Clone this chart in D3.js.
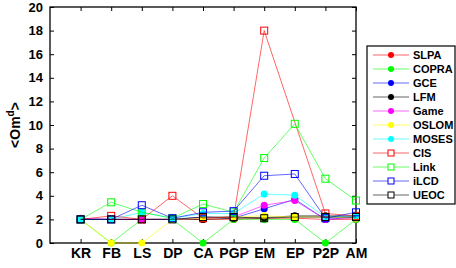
<!DOCTYPE html>
<html>
<head>
<meta charset="utf-8">
<script src="https://cdn.jsdelivr.net/npm/d3@7"></script>
<style>
  body { margin: 0; background: #fff; }
  svg { font-family: "Liberation Sans", Arial, sans-serif; }
</style>
</head>
<body>
<svg id="chart" width="456" height="268"></svg>
<script>
var categories = ["KR", "FB", "LS", "DP", "CA", "PGP", "EM", "EP", "P2P", "AM"];
var yTicks = [0, 2, 4, 6, 8, 10, 12, 14, 16, 18, 20];

// one array per algorithm (null = no point)
var slpa  = [2.0, 2.0, 2.0, 2.0, 2.0, 2.0, 2.1, 2.1, 2.0, 2.0];
var copra = [2.0, 0.0, 2.0, 2.0, 0.0, 2.0, 2.0, 2.0, 0.0, 2.0];
var gce   = [2.0, 2.0, 2.0, 2.0, 2.2, 2.1, 2.9, 3.7, 2.0, 2.2];
var lfm   = [2.0, 2.0, 2.0, 2.0, 2.0, 2.1, 2.15, 2.3, 2.3, 2.3];
var game  = [2.1, 2.0, 2.0, 2.0, 2.1, 2.2, 3.2, 3.6, 2.0, 2.1];
var oslom = [2.0, 0.0, 0.0, 2.0, 2.1, 2.2, 2.3, 2.2, 2.2, 2.1];
var moses = [2.0, 2.0, 2.6, 2.1, 2.5, 2.5, 4.15, 4.05, 2.2, 2.3];
var cis   = [2.0, 2.3, 2.0, 4.0, 2.1, 2.2, 18.0, null, 2.5, 2.3];
var link  = [2.0, 3.45, 2.6, 2.1, 3.3, 2.6, 7.2, 10.1, 5.45, 3.6];
var ilcd  = [2.0, 2.0, 3.2, 2.1, 2.6, 2.7, 5.7, 5.85, 2.1, 2.6];
var ueoc  = [2.0, 2.0, 2.0, 2.0, 2.2, 2.2, 2.1, 2.2, 2.2, 2.2];

var series = [
  {name: "SLPA",  values: slpa,  color: "#ff0000", marker: "dot"},
  {name: "COPRA", values: copra, color: "#00ff00", marker: "dot"},
  {name: "GCE",   values: gce,   color: "#0000ff", marker: "dot"},
  {name: "LFM",   values: lfm,   color: "#000000", marker: "dot"},
  {name: "Game",  values: game,  color: "#ff00ff", marker: "dot"},
  {name: "OSLOM", values: oslom, color: "#ffff00", marker: "dot"},
  {name: "MOSES", values: moses, color: "#00ffff", marker: "dot"},
  {name: "CIS",   values: cis,   color: "#ff0000", marker: "square"},
  {name: "Link",  values: link,  color: "#00ff00", marker: "square"},
  {name: "iLCD",  values: ilcd,  color: "#0000ff", marker: "square"},
  {name: "UEOC",  values: ueoc,  color: "#000000", marker: "square"}
];

var svg = d3.select("#chart");
var mLeft = 50, mRight = 356, mTop = 7, mBottom = 243;

var x = d3.scaleLinear().domain([0, categories.length]).range([mLeft, mRight]);
var y = d3.scaleLinear().domain([0, 20]).range([mBottom, mTop]);

// axes box with inward ticks (matlab style)
var g = svg.append("g");

g.append("g")
  .attr("transform", "translate(0," + mBottom + ")")
  .call(d3.axisBottom(x).tickValues(d3.range(1, categories.length + 1))
    .tickFormat(function(d) { return categories[d - 1]; })
    .tickSizeInner(-4).tickSizeOuter(0).tickPadding(5))
  .call(function(a) {
    a.select(".domain").remove();
    a.selectAll("text").attr("font-size", "14px").attr("font-weight", "bold").attr("fill", "#000");
  });

g.append("g")
  .attr("transform", "translate(0," + mTop + ")")
  .call(d3.axisTop(x).tickValues(d3.range(1, categories.length + 1))
    .tickFormat("").tickSizeInner(-4).tickSizeOuter(0))
  .call(function(a) { a.select(".domain").remove(); });

g.append("g")
  .attr("transform", "translate(" + mLeft + ",0)")
  .call(d3.axisLeft(y).tickValues(yTicks).tickSizeInner(-4).tickSizeOuter(0).tickPadding(7))
  .call(function(a) {
    a.select(".domain").remove();
    a.selectAll("text").attr("font-size", "13px").attr("font-weight", "bold").attr("fill", "#000");
  });

g.append("g")
  .attr("transform", "translate(" + mRight + ",0)")
  .call(d3.axisRight(y).tickValues(yTicks).tickFormat("").tickSizeInner(-4).tickSizeOuter(0))
  .call(function(a) { a.select(".domain").remove(); });

g.append("rect")
  .attr("x", mLeft).attr("y", mTop)
  .attr("width", mRight - mLeft).attr("height", mBottom - mTop)
  .attr("fill", "none").attr("stroke", "#000").attr("stroke-width", 1.3);

// y label
var yl = svg.append("text")
  .attr("transform", "translate(20," + ((mTop + mBottom) / 2) + ") rotate(-90)")
  .attr("text-anchor", "middle")
  .attr("font-size", "14px").attr("font-weight", "bold");
yl.append("tspan").text("<Om");
yl.append("tspan").attr("dy", -6).attr("font-size", "10px").text("d");
yl.append("tspan").attr("dy", 6).text(">");

// lines + markers
var plot = svg.append("g");

series.forEach(function(s) {
  var sg = plot.append("g");
  var pts = s.values.map(function(v, i) { return {v: v, i: i}; })
    .filter(function(p) { return p.v != null; });

  sg.append("path")
    .datum(pts)
    .attr("fill", "none")
    .attr("stroke", s.color)
    .attr("stroke-opacity", 0.6)
    .attr("stroke-width", 1)
    .attr("d", d3.line().x(function(p) { return x(p.i + 1); }).y(function(p) { return y(p.v); }));

  drawMarker(sg, pts, s);
});

function drawMarker(sel, pts, s) {
  if (s.marker == "dot") {
    sel.selectAll("circle").data(pts).enter().append("circle")
      .attr("cx", function(p) { return x(p.i + 1); })
      .attr("cy", function(p) { return y(p.v); })
      .attr("r", 3.5)
      .attr("fill", s.color);
  } else {
    sel.selectAll("rect").data(pts).enter().append("rect")
      .attr("x", function(p) { return x(p.i + 1) - 3.5; })
      .attr("y", function(p) { return y(p.v) - 3.5; })
      .attr("width", 7).attr("height", 7)
      .attr("fill", "none")
      .attr("stroke", s.color).attr("stroke-width", 1);
  }
}

// legend
var lg = svg.append("g");
var lx = 367, ly = 46, lw = 88, lh = 158;
lg.append("rect").attr("x", lx).attr("y", ly).attr("width", lw).attr("height", lh)
  .attr("fill", "#fff").attr("stroke", "#000").attr("stroke-width", 1.2);

series.forEach(function(s, i) {
  var cy = 55 + i * 14;
  var e = lg.append("g");
  e.append("line").attr("x1", 373).attr("x2", 409).attr("y1", cy).attr("y2", cy)
    .attr("stroke", s.color).attr("stroke-opacity", 0.6).attr("stroke-width", 1);
  if (s.marker == "dot") {
    e.append("circle").attr("cx", 391).attr("cy", cy).attr("r", 3).attr("fill", s.color);
  } else {
    e.append("rect").attr("x", 388).attr("y", cy - 3).attr("width", 6).attr("height", 6)
      .attr("fill", "#fff").attr("stroke", s.color);
  }
  e.append("text").attr("x", 413).attr("y", cy + 4)
    .attr("font-size", "11px").attr("font-weight", "bold").text(s.name);
});
</script>
</body>
</html>
